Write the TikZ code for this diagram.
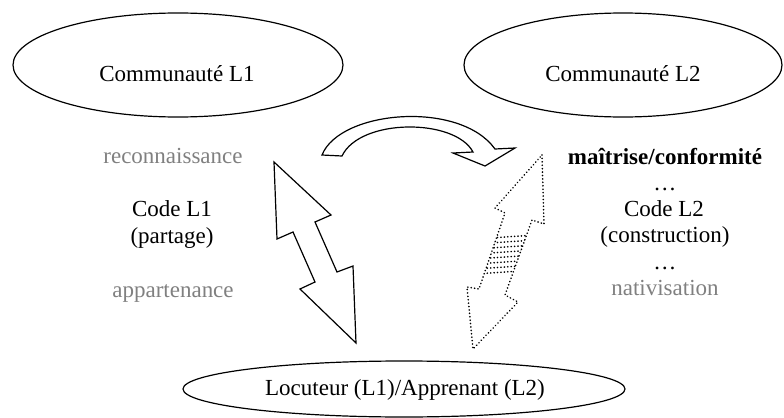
\documentclass[tikz,border=0pt]{standalone}
\usepackage{fontspec}
\setmainfont{Liberation Serif}
\usetikzlibrary{shapes.geometric}
\definecolor{softgray}{rgb}{0.5,0.5,0.5}
\begin{document}
\begin{tikzpicture}[x=0.5pt,y=-0.5pt,
  ell/.style={draw, ellipse, line width=0.6pt, inner sep=0pt},
  txt/.style={font=\fontsize{11.5}{13}\selectfont, inner sep=0pt, text height=8pt, text depth=2.5pt},
  graytxt/.style={txt, text=softgray},
  shapeline/.style={draw, line width=0.6pt, line join=miter},
  dotline/.style={line width=0.9pt, line cap=round, dash pattern=on 0.01pt off 1.7pt}]
\useasboundingbox (0,0) rectangle (784,418);
% ellipses
\node[ell, minimum width=165pt, minimum height=52pt] (c1) at (178,65) {};
\node[txt] (c1t) at (177,76) {Communauté L1};
\node[ell, minimum width=159pt, minimum height=52pt] (c2) at (623,65) {};
\node[txt] (c2t) at (623,76) {Communauté L2};
\node[ell, minimum width=221pt, minimum height=28pt] (loc) at (404,389) {};
\node[txt] (loct) at (405,390) {Locuteur (L1)/Apprenant (L2)};
% left texts
\node[graytxt] (rec) at (173,158) {reconnaissance};
\node[txt] (code1) at (172,211) {Code L1};
\node[txt] (part) at (172,238) {(partage)};
\node[graytxt] (app) at (173,292) {appartenance};
% right texts
\node[txt, font=\fontsize{11.5}{13}\selectfont\bfseries] (mai) at (665,159) {maîtrise/conformité};
\node[txt] (dots1) at (665,185) {…};
\node[txt] (code2) at (664,211) {Code L2};
\node[txt] (cons) at (665,237) {(construction)};
\node[txt] (dots2) at (665,264) {…};
\node[graytxt] (nat) at (665,290) {nativisation};
% solid double arrow
\draw[shapeline] (274,162) -- (331,215) -- (315,222) -- (337,272) -- (353,266) -- (356,343)
  -- (300,289) -- (315,282) -- (293,232) -- (277,239) -- cycle;
% curved arrow
\draw[shapeline] (322,155) .. controls (340,110) and (460,100) .. (495,149) -- (515,148)
  -- (485,166) -- (453,153) -- (473,152) .. controls (455,118) and (360,118) .. (342,156) -- cycle;
% dotted double arrow
\draw[dotline] (542,155) -- (544,224) -- (532,220) -- (505,295) -- (518,302) -- (473,349)
  -- (467,287) -- (479,289) -- (505,213) -- (495,208) -- cycle;
\begin{scope}
\clip (505,213) -- (532,220) -- (505,295) -- (479,289) -- cycle;
\foreach \yy in {237,242,...,274} \draw[dotline] (460,\yy+3) -- (550,\yy-3);
\end{scope}
\end{tikzpicture}
\end{document}
